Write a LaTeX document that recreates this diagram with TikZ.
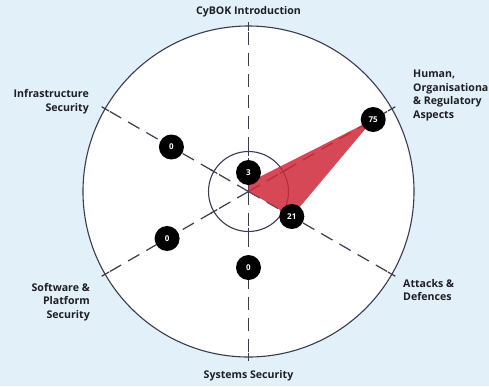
\documentclass[tikz,border=0pt]{standalone}
\usepackage{fontspec}
\setmainfont{Open Sans}
\definecolor{bgcol}{RGB}{226,240,250}
\definecolor{linecol}{RGB}{58,60,78}
\definecolor{redcol}{RGB}{208,40,58}
\definecolor{labelcol}{RGB}{30,30,35}
\begin{document}
\begin{tikzpicture}[x=1pt,y=1pt,
  lbl/.style={font=\fontsize{10.6}{13.6}\selectfont\bfseries, text=labelcol, inner sep=0pt},
  marker/.style={circle, fill=black, minimum size=25pt, inner sep=0pt, text=white, font=\fontsize{8}{9}\selectfont\bfseries},
  spoke/.style={draw=linecol, line width=1.2pt, dash pattern=on 13pt off 8pt},
  tick/.style={draw=linecol, line width=1.2pt},
  ring/.style={draw=linecol, line width=1.1pt}]
\useasboundingbox (-248.5,-194.5) rectangle (240.5,191.5);
\fill[bgcol] (-248.5,-194.5) rectangle (240.5,191.5);
\coordinate (c) at (0,0);
\fill[white] (c) circle (165.5);
\draw[ring] (c) circle (165.5);
\draw[ring] (c) circle (40);
\foreach \a in {90,30,-30,-90,210,150}{
  \coordinate (r\a) at (\a:168);
  \draw[spoke] (c) -- (r\a);
  \coordinate (ia\a) at (\a:36);
  \coordinate (ib\a) at (\a:44);
  \draw[tick] (ia\a) -- (ib\a);
  \coordinate (oa\a) at (\a:161);
  \coordinate (ob\a) at (\a:169.5);
  \draw[tick] (oa\a) -- (ob\a);
}
\coordinate (p3) at (90:9);
\coordinate (p75) at (30:144);
\coordinate (p21) at (-30:50);
\fill[redcol, opacity=0.85] (c) -- (p3) -- (p75) -- (p21) -- cycle;
\node[marker] (m3) at (90:19) {3};
\node[marker] (m75) at (30:144) {75};
\node[marker] (m21) at (-30:50) {21};
\node[marker] (m0a) at (150:89) {0};
\node[marker] (m0b) at (210:94) {0};
\node[marker] (m0c) at (-90:76) {0};
\node[lbl] (l1) at (0,179.5) {CyBOK Introduction};
\node[lbl, anchor=east, align=right] (l2) at (-159.5,89.5) {Infrastructure\\Security};
\node[lbl, anchor=west, align=left] (l3) at (164.5,96) {Human,\\Organisational\\\& Regulatory\\Aspects};
\node[lbl, anchor=east, align=right] (l4) at (-158.5,-110.5) {Software \&\\Platform\\Security};
\node[lbl, anchor=west, align=left] (l5) at (154.5,-98.5) {Attacks \&\\Defences};
\node[lbl] (l6) at (0,-184.5) {Systems Security};
\end{tikzpicture}
\end{document}
